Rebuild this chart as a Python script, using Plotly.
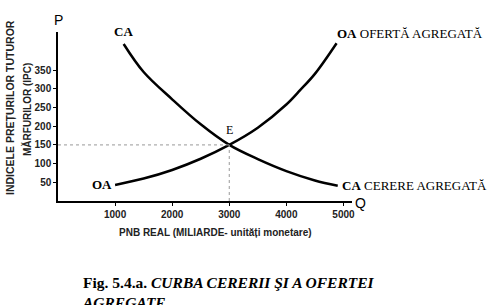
import plotly.graph_objects as go

# demand (CA) and supply (OA) curves
ca_x = [1150, 1500, 2000, 2500, 3000, 3500, 4000, 4500, 4900]
ca_y = [420, 345, 272, 205, 150, 112, 80, 55, 41]
oa_x = [1000, 1500, 2000, 2500, 3000, 3500, 4000, 4245, 4500, 4880]
oa_y = [43, 60, 83, 113, 150, 196, 258, 297, 340, 422]
eq_x, eq_y = 3000, 150
x_ticks = [1000, 2000, 3000, 4000, 5000]
y_ticks = [50, 100, 150, 200, 250, 300, 350]

sans = "Liberation Sans Narrow, Arial Narrow, Liberation Sans, Arial"
serif = "Liberation Serif, Times New Roman, serif"

L, T, W, H = 58, 32, 294, 169

def px(xp):
    return (xp - L) / W

def py(yp):
    return (T + H - yp) / H

fig = go.Figure()
fig.add_trace(go.Scatter(x=ca_x, y=ca_y, mode="lines", line=dict(color="black", width=2.5, shape="spline"),
                         hoverinfo="skip", cliponaxis=False))
fig.add_trace(go.Scatter(x=oa_x, y=oa_y, mode="lines", line=dict(color="black", width=2.5, shape="spline"),
                         hoverinfo="skip", cliponaxis=False))

# dotted guide lines
fig.add_shape(type="line", x0=0, y0=eq_y, x1=eq_x, y1=eq_y, line=dict(color="#999", width=1, dash="dot"))
fig.add_shape(type="line", x0=eq_x, y0=0, x1=eq_x, y1=eq_y, line=dict(color="#999", width=1, dash="dot"))

tickfont = dict(family=sans, size=10, color="#222", weight="bold")
fig.update_layout(
    width=498, height=305, margin=dict(l=L, r=498 - L - W, t=T, b=305 - T - H),
    paper_bgcolor="white", plot_bgcolor="white", showlegend=False,
    xaxis=dict(range=[0, 5150], tickvals=x_ticks, showgrid=False, zeroline=False,
               showline=True, linecolor="black", linewidth=1.5, ticks="outside", ticklen=3,
               tickcolor="black", tickfont=tickfont),
    yaxis=dict(range=[0, 452], tickvals=y_ticks, showgrid=False, zeroline=False,
               showline=True, linecolor="black", linewidth=1.5, ticks="outside", ticklen=3,
               tickcolor="black", tickfont=tickfont),
)

ann = []
def a(x, y, text, font, xref="x", yref="y", xanchor="center", yanchor="middle", **kw):
    ann.append(dict(x=x, y=y, xref=xref, yref=yref, text=text, showarrow=False,
                    xanchor=xanchor, yanchor=yanchor, font=font, **kw))

bold_serif = dict(family=serif, size=13, color="black")
a(1150, 452, "<b>CA</b>", bold_serif, yanchor="bottom", yshift=-9)
a(1000, 43, "<b>OA</b>", bold_serif, xanchor="right", xshift=-1)
a(eq_x, eq_y, "E", dict(family=serif, size=12, color="black"), yanchor="bottom", yshift=6)
a(4880, 422, "<b>OA</b> OFERTĂ AGREGATĂ", bold_serif, xanchor="left", yanchor="bottom", xshift=-2)
a(4900, 41, "<b>CA</b> CERERE AGREGATĂ", bold_serif, xanchor="left", xshift=2)
a(5150, 0, "Q", dict(family=sans, size=14, color="black"), xanchor="left", xshift=1, yshift=-2)
a(0, 452, "P", dict(family=sans, size=14, color="black"), yanchor="bottom", yshift=2)
a(px(215), py(232), "<b>PNB REAL (MILIARDE- unități monetare)</b>", dict(family=sans, size=10, color="#222"),
  xref="paper", yref="paper")
a(px(10), py(108), "<b>INDICELE PREȚURILOR TUTUROR</b>", dict(family=sans, size=10.5, color="#222"),
  xref="paper", yref="paper", textangle=-90)
a(px(27), py(110), "<b>MĂRFURILOR (IPC)</b>", dict(family=sans, size=10, color="#222"),
  xref="paper", yref="paper", textangle=-90)
a(px(80), py(272), "<b>Fig. 5.4.a. <i>CURBA CERERII ŞI A OFERTEI</i><br><i>AGREGATE</i></b>",
  dict(family=serif, size=15.5, color="black"), xref="paper", yref="paper",
  xanchor="left", yanchor="top", align="left")
fig.update_layout(annotations=ann)

fig.write_html("out.html")
